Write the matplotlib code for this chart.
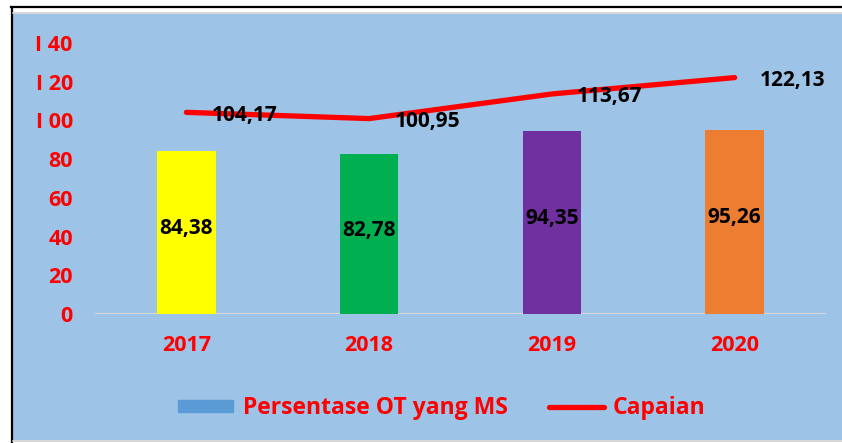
import matplotlib
matplotlib.use("Agg")
import matplotlib.pyplot as plt
from matplotlib.patches import Rectangle
from matplotlib.lines import Line2D

years = ["2017", "2018", "2019", "2020"]
persentase = [84.38, 82.78, 94.35, 95.26]
capaian = [104.17, 100.95, 113.67, 122.13]
bar_colors = ["#FFFF00", "#00B050", "#7030A0", "#ED7D31"]
yticks = [0, 20, 40, 60, 80, 100, 120, 140]
ytick_labels = ["0", "20", "40", "60", "80", "I 00", "I 20", "I 40"]

W, H = 842, 443
fig = plt.figure(figsize=(W / 100, H / 100), dpi=100)
fig.patch.set_facecolor("white")

def fx(px):
    return px / W

def fy(py):
    return 1 - py / H

# background panel
fig.patches.append(Rectangle((fx(13), fy(440)), fx(W - 13), (440 - 14) / H,
                             transform=fig.transFigure, facecolor="#9DC3E6",
                             edgecolor="none", zorder=-5))
for ln in [Line2D([fx(11.5), fx(11.5)], [fy(7), fy(443)], color="black", lw=1.6),
           Line2D([fx(11), fx(842)], [fy(7), fy(7)], color="black", lw=1.6),
           Line2D([fx(13), fx(842)], [fy(13), fy(13)], color="#D0D0D0", lw=1.2),
           Line2D([fx(13), fx(842)], [fy(441), fy(441)], color="#D0D0D0", lw=1.2)]:
    ln.set_transform(fig.transFigure)
    ln.set_zorder(-4)
    fig.lines.append(ln)

ax = fig.add_axes([fx(95), fy(314), fx(826 - 95), (314 - 43) / H])
ax.set_zorder(2)
ax.set_facecolor("none")
x = list(range(len(years)))
ax.bar(x, persentase, width=0.32, color=bar_colors, zorder=2)
ax.plot(x, capaian, color="red", lw=3.8, solid_capstyle="round", zorder=3)
ax.set_xlim(-0.5, 3.5)
ax.set_ylim(0, 140)
tick_font = {"family": "Open Sans", "weight": "bold", "size": 15.5, "color": "red"}
ax.set_yticks(yticks)
ax.set_yticklabels(ytick_labels, fontdict=tick_font)
ax.set_xticks(x)
ax.set_xticklabels(years, fontdict=tick_font)
for s in ax.spines.values():
    s.set_visible(False)
ax.axhline(0, color="#D9D9D9", lw=1.5, zorder=1)
ax.tick_params(length=0)
ax.tick_params(axis="y", pad=16)
ax.tick_params(axis="x", pad=15)

def fmt(v):
    return f"{v:.2f}".replace(".", ",")

for xi, v in zip(x, persentase):
    ax.text(xi, v / 2 + 2, fmt(v), ha="center", va="center", fontsize=15,
            fontweight="bold", family="Open Sans", color="black", zorder=4)
for xi, v in zip(x, capaian):
    ax.annotate(fmt(v), (xi, v), xytext=(58, -3), textcoords="offset pixels",
                ha="center", va="center", fontsize=15, fontweight="bold",
                family="Open Sans", color="black", zorder=4)

handles = [Rectangle((0, 0), 1, 1, color="#5B9BD5"),
           Line2D([0], [0], color="red", lw=3.8, solid_capstyle="round")]
leg = fig.legend(handles, ["Persentase OT yang MS", "Capaian"], loc="center",
                 bbox_to_anchor=(fx(442), fy(408)), ncol=2, frameon=False,
                 prop={"family": "Open Sans", "weight": "bold", "size": 16.5},
                 handlelength=2.4, handleheight=0.45, columnspacing=1.8, handletextpad=0.4)
for t in leg.get_texts():
    t.set_color("red")

fig.savefig("out.png", dpi=100)
